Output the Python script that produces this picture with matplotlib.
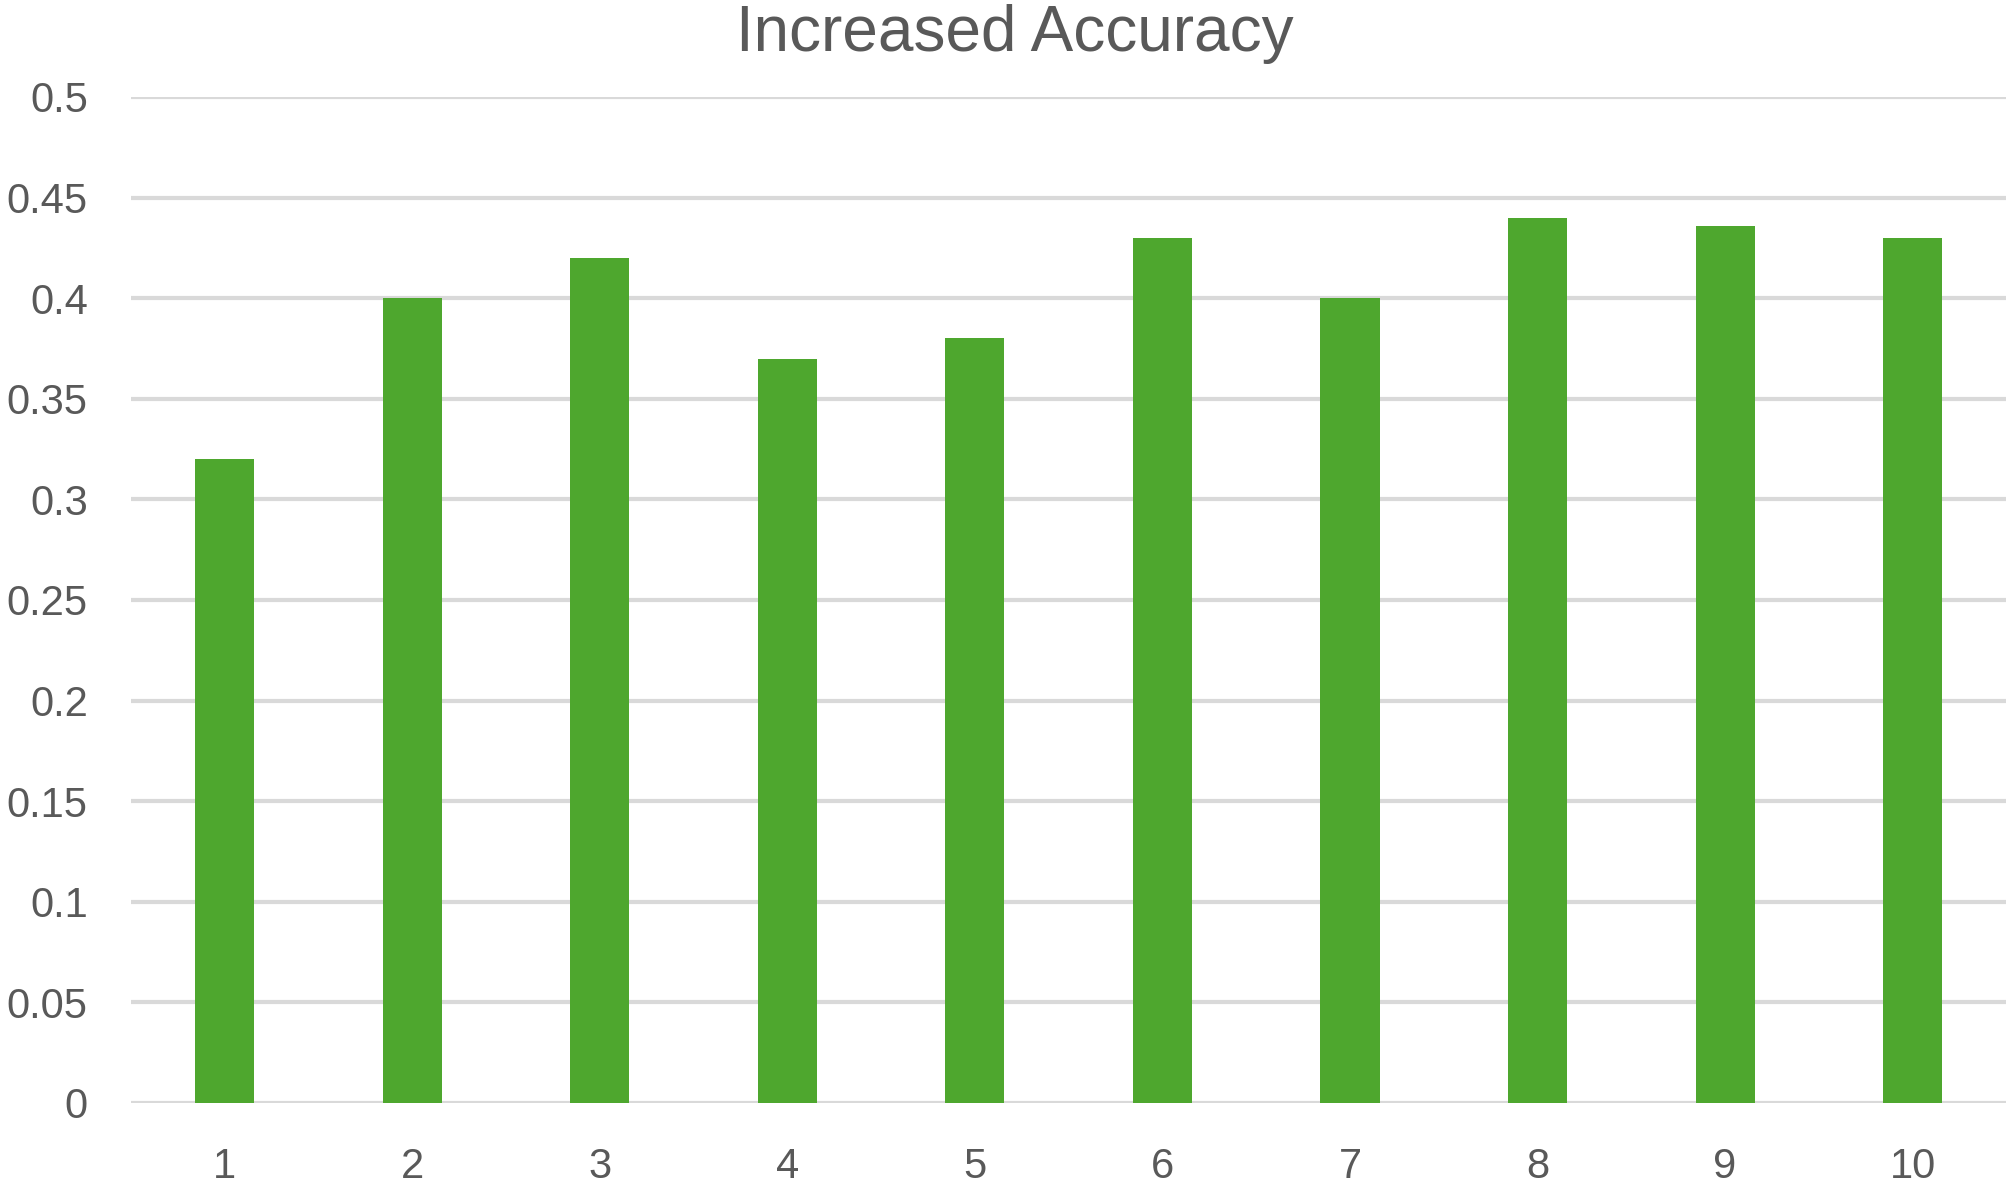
import matplotlib
matplotlib.use('Agg')
import matplotlib.pyplot as plt
import numpy as np

# Data
categories = ['1', '2', '3', '4', '5', '6', '7', '8', '9', '10']
accuracy = [0.32, 0.40, 0.42, 0.37, 0.38, 0.43, 0.40, 0.44, 0.436, 0.43]
yticks = [0, 0.05, 0.1, 0.15, 0.2, 0.25, 0.3, 0.35, 0.4, 0.45, 0.5]
ytick_labels = ['0', '0.05', '0.1', '0.15', '0.2', '0.25', '0.3', '0.35', '0.4', '0.45', '0.5']

text_color = '#595959'
grid_color = '#d9d9d9'
bar_color = '#4ea72e'

fig = plt.figure(figsize=(20.08, 11.88), dpi=100)
ax = fig.add_axes([0.0652, 0.0716, 0.934, 0.8468])

x = np.arange(len(categories))
ax.bar(x, accuracy, width=0.315, color=bar_color, zorder=3)

ax.set_xlim(-0.5, len(categories) - 0.5)
ax.set_ylim(0, 0.5)
ax.set_yticks(yticks)
ax.set_yticklabels(ytick_labels)
ax.set_xticks(x)
ax.set_xticklabels(categories)

for s in ax.spines.values():
    s.set_visible(False)
ax.yaxis.grid(True, color=grid_color, linewidth=3, zorder=0)
ax.set_axisbelow(True)
ax.tick_params(axis='both', length=0, labelsize=30, labelcolor=text_color)
ax.tick_params(axis='y', pad=31)
ax.tick_params(axis='x', pad=32)
for lbl in ax.get_xticklabels() + ax.get_yticklabels():
    lbl.set_family(['Liberation Sans', 'DejaVu Sans'])

fig.text(0.5055, 0.957, 'Increased Accuracy', ha='center', va='baseline',
         fontsize=46, color=text_color,
         family=['Liberation Sans', 'DejaVu Sans'])

fig.savefig('out.png', dpi=100, facecolor='white')
